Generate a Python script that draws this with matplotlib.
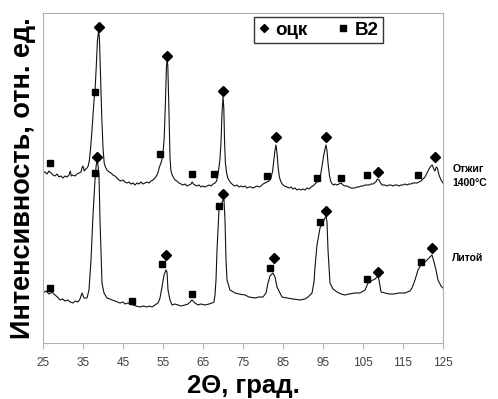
import matplotlib
matplotlib.use("Agg")
import matplotlib.pyplot as plt
from matplotlib.lines import Line2D

plt.rcParams['font.family'] = ['Liberation Sans', 'DejaVu Sans']

# 2theta (deg) and intensity (arb. units)
# annealed at 1400C (upper curve)
tt_ann = [25.0, 25.5, 26.0, 26.5, 27.0, 27.5, 28.0, 28.5, 29.0, 29.5, 30.0, 30.5, 31.0, 31.5, 31.8, 32.1,
          32.5, 33.0, 33.5, 34.0, 34.5, 34.8, 35.0, 35.3, 35.7, 36.0, 36.3, 36.6, 36.9, 37.2, 37.5, 37.8,
          38.0, 38.3, 38.6, 38.9, 39.1, 39.4, 39.7, 40.0, 40.3, 40.6, 41.0, 41.5, 42.0, 42.5, 43.0, 43.5,
          44.0, 44.5, 45.0, 45.5, 46.0, 46.5, 47.0, 47.5, 48.0, 48.5, 49.0, 49.5, 50.0, 50.5, 51.0, 51.5,
          52.0, 52.5, 53.0, 53.5, 53.8, 54.1, 54.4, 54.7, 55.0, 55.3, 55.6, 55.85, 56.0, 56.2, 56.5, 56.75,
          57.0, 57.3, 57.7, 58.0, 58.5, 59.0, 59.5, 60.0, 60.5, 61.0, 61.5, 62.0, 62.3, 62.6, 63.0, 63.5,
          64.0, 64.5, 65.0, 65.5, 66.0, 66.5, 67.0, 67.5, 68.0, 68.4, 68.8, 69.2, 69.5, 69.75, 70.0, 70.2,
          70.4, 70.6, 70.9, 71.2, 71.6, 72.0, 72.5, 73.0, 73.5, 74.0, 74.5, 75.0, 75.5, 76.0, 76.5, 77.0,
          77.5, 78.0, 78.5, 79.0, 79.5, 80.0, 80.5, 81.0, 81.5, 82.0, 82.4, 82.7, 83.0, 83.25, 83.5, 83.8,
          84.1, 84.4, 84.8, 85.3, 86.0, 86.5, 87.0, 87.5, 88.0, 88.5, 89.0, 89.5, 90.0, 90.5, 91.0, 91.5,
          92.0, 92.5, 93.0, 93.5, 94.0, 94.4, 94.8, 95.2, 95.5, 95.75, 96.0, 96.3, 96.6, 96.9, 97.3, 97.7,
          98.0, 98.5, 99.0, 99.5, 100.0, 100.5, 101.0, 101.5, 102.0, 102.5, 103.0, 103.5, 104.0, 104.5, 105.0, 105.5,
          106.0, 106.5, 107.0, 107.5, 108.2, 108.6, 109.0, 109.4, 109.8, 110.5, 111.0, 111.5, 112.0, 112.5, 113.0, 113.5,
          114.0, 114.5, 115.0, 115.5, 116.0, 116.5, 117.0, 117.5, 118.0, 118.5, 119.0, 119.5, 120.0, 120.5, 121.0, 121.5,
          122.0, 122.3, 122.7, 123.0, 123.3, 123.6, 124.0, 124.5, 125.0]
I_ann = [170, 171, 169, 172, 170, 168, 167, 169, 166, 167, 165, 167, 166, 168, 172, 167,
         168, 167, 169, 170, 171, 176, 177, 172, 174, 175, 177, 183, 195, 210, 228, 245,
         252, 275, 302, 312, 305, 265, 225, 195, 180, 176, 173, 171, 170, 168, 167, 165,
         163, 162, 163, 161, 160, 161, 159, 160, 158, 160, 159, 161, 159, 160, 161, 160,
         162, 163, 165, 168, 171, 176, 179, 183, 190, 205, 240, 275, 283, 278, 230, 185,
         172, 168, 165, 163, 162, 160, 159, 158, 159, 157, 158, 159, 161, 159, 158, 157,
         158, 156, 157, 156, 157, 158, 157, 159, 160, 162, 170, 182, 200, 230, 246, 235,
         200, 180, 170, 165, 162, 160, 158, 157, 158, 156, 157, 156, 157, 155, 156, 156,
         155, 156, 157, 156, 157, 159, 160, 161, 162, 165, 172, 183, 193, 198, 190, 175,
         166, 162, 159, 157, 156, 155, 156, 154, 155, 153, 154, 153, 154, 153, 155, 154,
         156, 157, 159, 161, 164, 168, 178, 188, 194, 198, 192, 178, 168, 162, 159, 158,
         159, 158, 159, 160, 158, 157, 157, 156, 155, 155, 155, 156, 156, 157, 157, 158,
         158, 158, 159, 159, 161, 164, 163, 160, 158, 158, 157, 158, 158, 157, 158, 158,
         157, 158, 158, 159, 158, 159, 159, 160, 160, 160, 161, 162, 164, 166, 170, 174,
         177, 178, 174, 172, 176, 175, 168, 163, 160]

# as cast (lower curve)
tt_cast = [25.0, 25.75, 26.5, 27.25, 28.0, 28.6, 29.25, 29.9, 30.5, 31.2, 31.8, 32.5, 33.1, 33.75, 34.25, 34.75,
           35.25, 36.0, 36.5, 37.0, 37.5, 38.0, 38.25, 38.5, 38.75, 39.0, 39.25, 39.75, 40.25, 41.0, 41.7, 42.25,
           43.0, 43.6, 44.25, 45.0, 45.5, 46.25, 47.0, 47.5, 48.25, 49.25, 50.0, 51.0, 51.6, 52.25, 53.0, 53.75,
           54.25, 54.75, 55.25, 55.75, 56.0, 56.25, 56.75, 57.25, 58.0, 58.75, 59.5, 60.5, 61.25, 61.5, 62.25, 63.0,
           63.75, 64.5, 65.5, 66.5, 67.25, 67.75, 68.0, 68.25, 68.5, 69.0, 69.5, 70.0, 70.25, 70.5, 70.75, 71.0,
           71.75, 73.0, 74.0, 75.5, 76.5, 78.0, 79.0, 80.0, 80.75, 81.25, 81.75, 82.5, 83.0, 83.5, 84.25, 84.75,
           86.0, 87.5, 89.25, 90.5, 91.25, 92.25, 92.75, 93.0, 93.5, 94.25, 94.75, 95.5, 95.75, 96.0, 96.25, 96.75,
           97.5, 98.5, 99.5, 100.5, 101.5, 103.0, 104.25, 105.5, 106.25, 107.0, 108.0, 108.75, 109.0, 109.5, 110.5, 111.5,
           112.75, 114.0, 115.5, 116.75, 117.25, 118.0, 118.75, 119.5, 120.5, 121.25, 122.25, 122.75, 123.25, 123.75, 124.5, 125.0]
I_cast = [50, 52, 49, 51, 48, 46, 43, 44, 42, 43, 41, 40, 42, 41, 44, 50,
          45, 45, 53, 83, 128, 163, 176, 183, 178, 168, 123, 60, 50, 45, 44, 43,
          42, 41, 40, 41, 39, 40, 39, 38, 37, 36, 37, 36, 37, 36, 38, 40,
          45, 56, 68, 73, 71, 53, 43, 38, 39, 38, 37, 38, 39, 40, 43, 40,
          38, 39, 38, 39, 40, 41, 48, 63, 93, 133, 138, 143, 143, 123, 83, 63,
          53, 50, 49, 48, 46, 45, 46, 46, 50, 60, 67, 70, 66, 56, 50, 46,
          45, 44, 43, 44, 46, 50, 61, 76, 98, 115, 119, 125, 127, 121, 93, 60,
          54, 51, 49, 48, 49, 50, 50, 53, 60, 62, 64, 67, 63, 51, 50, 49,
          49, 50, 50, 52, 55, 63, 73, 78, 81, 84, 88, 81, 73, 63, 57, 55]

# phase markers: bcc (diamond) and B2 (square)
bcc_ann_x = [39.0, 56.0, 70.0, 83.25, 95.75, 108.75, 123.0]
bcc_ann_y = [316, 287, 252, 206, 206, 171, 186]
b2_ann_x = [26.75, 38.0, 54.25, 62.25, 67.75, 81.0, 93.5, 99.5, 106.0, 118.75]
b2_ann_y = [180, 251, 189, 169, 169, 167, 165, 165, 168, 168]
bcc_cast_x = [38.5, 55.75, 70.0, 82.75, 95.75, 108.75, 122.25]
bcc_cast_y = [186, 88, 149, 85, 132, 71, 95]
b2_cast_x = [26.75, 38.0, 47.25, 54.75, 62.25, 69.0, 81.75, 94.25, 106.0, 119.5]
b2_cast_y = [55, 170, 42, 79, 49, 137, 75, 121, 64, 81]

xticks = [25, 35, 45, 55, 65, 75, 85, 95, 105, 115, 125]

fig = plt.figure(figsize=(4.98, 3.99), dpi=100)
ax = fig.add_axes([43 / 498, 56 / 399, 400 / 498, 330 / 399])

ax.plot(tt_ann, I_ann, color='#111111', lw=0.8)
ax.plot(tt_cast, I_cast, color='#111111', lw=0.8)

for xs, ys in [(bcc_ann_x, bcc_ann_y), (bcc_cast_x, bcc_cast_y)]:
    ax.plot(xs, ys, 'D', color='black', ms=5, ls='none')
for xs, ys in [(b2_ann_x, b2_ann_y), (b2_cast_x, b2_cast_y)]:
    ax.plot(xs, ys, 's', color='black', ms=5, ls='none')

ax.set_xlim(25, 125)
ax.set_ylim(0, 330)
ax.set_xticks(xticks)
ax.set_yticks([])
for s in ax.spines.values():
    s.set_color('#b0b0b0')
    s.set_linewidth(0.8)
ax.tick_params(axis='x', direction='out', length=4, color='#b0b0b0',
               labelsize=8.5, labelcolor='#404040', pad=6)

ax.set_xlabel('2\u0398, град.', fontsize=18.5, fontweight='bold', labelpad=4)
ax.set_ylabel('Интенсивность, отн. ед.', fontsize=19.5, fontweight='bold', labelpad=5)

# legend
handles = [Line2D([], [], marker='D', color='black', ls='none', ms=4.5),
           Line2D([], [], marker='s', color='black', ls='none', ms=4.5)]
leg = ax.legend(handles, ['оцк', 'В2'], ncol=2, loc='upper left',
                bbox_to_anchor=(0.5275, 0.988), frameon=True, fancybox=False,
                handlelength=0.6, handletextpad=0.3, columnspacing=1.6,
                borderpad=0.25, borderaxespad=0,
                prop={'size': 13.5, 'weight': 'bold'})
leg.get_frame().set_edgecolor('black')
leg.get_frame().set_linewidth(1.0)

ax.text(127.3, 167, 'Отжиг\n1400°С', fontsize=7.5, fontweight='bold',
        va='center', ha='left', clip_on=False, linespacing=1.6)
ax.text(127.3, 85, 'Литой', fontsize=7.5, fontweight='bold',
        va='center', ha='left', clip_on=False)

fig.savefig('out.png', dpi=100)
